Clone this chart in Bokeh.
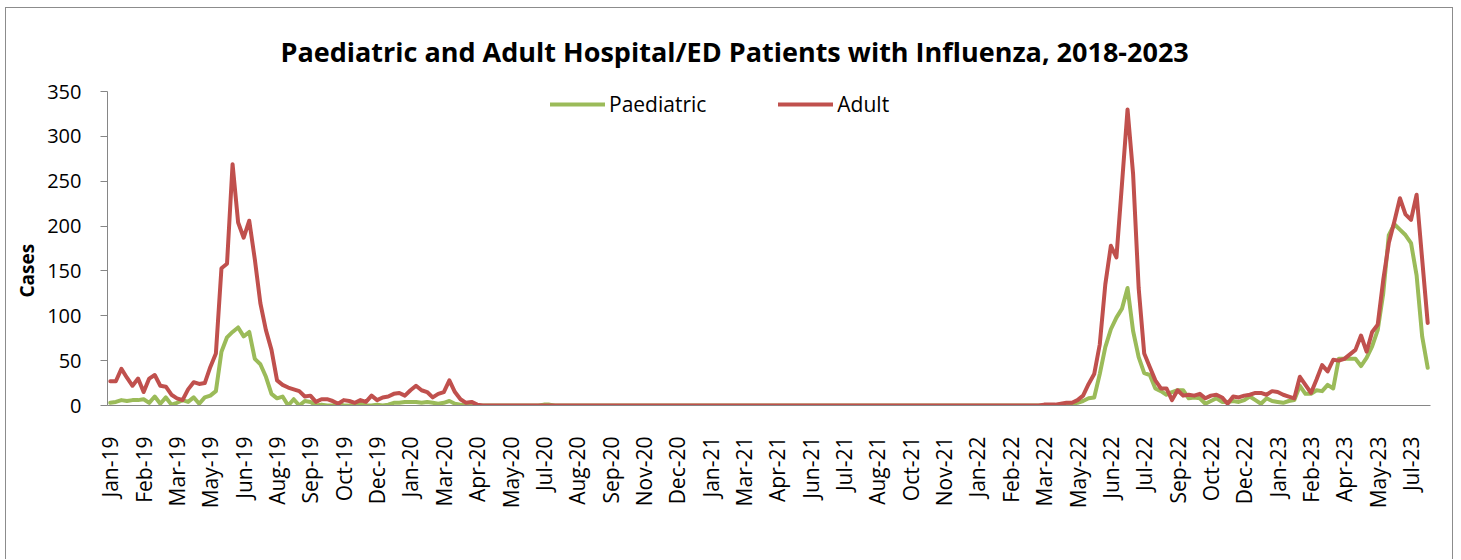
from bokeh.plotting import figure
from bokeh.models import Range1d, FixedTicker, Legend, LegendItem, ColumnDataSource, Title
from bokeh.embed import file_html
from bokeh.resources import INLINE
from math import pi

title_text = "Paediatric and Adult Hospital/ED Patients with Influenza, 2018-2023"
y_title = "Cases"

tick_labels = ["Jan-19", "Feb-19", "Mar-19", "May-19", "Jun-19", "Aug-19", "Sep-19", "Oct-19", "Dec-19",
               "Jan-20", "Mar-20", "Apr-20", "May-20", "Jul-20", "Aug-20", "Sep-20", "Nov-20", "Dec-20",
               "Jan-21", "Mar-21", "Apr-21", "Jun-21", "Jul-21", "Aug-21", "Oct-21", "Nov-21",
               "Jan-22", "Feb-22", "Mar-22", "May-22", "Jun-22", "Jul-22", "Sep-22", "Oct-22", "Dec-22",
               "Jan-23", "Feb-23", "Apr-23", "May-23", "Jul-23"]
weeks_per_label = 6

paediatric = [
    3, 4, 6, 5, 6, 6, 7, 3, 10, 2, 9, 1, 3, 6, 4, 9, 2, 9, 11, 16,
    60, 76, 82, 87, 77, 82, 52, 46, 32, 13, 8, 10, 0, 7, 0, 5, 4, 0, 1, 0,
    0, 2, 0, 0, 1, 2, 0, 0, 1, 0, 1, 3, 3, 4, 4, 4, 3, 4, 3, 2,
    3, 5, 2, 1, 0, 0, 0, 0, 0, 0, 0, 0, 0, 0, 0, 0, 0, 0, 1, 1,
    0, 0, 0, 0, 0, 0, 0, 0, 0, 0, 0, 0, 0, 0, 0, 0, 0, 0, 0, 0,
    0, 0, 0, 0, 0, 0, 0, 0, 0, 0, 0, 0, 0, 0, 0, 0, 0, 0, 0, 0,
    0, 0, 0, 0, 0, 0, 0, 0, 0, 0, 0, 0, 0, 0, 0, 0, 0, 0, 0, 0,
    0, 0, 0, 0, 0, 0, 0, 0, 0, 0, 0, 0, 0, 0, 0, 0, 0, 0, 0, 0,
    0, 0, 0, 0, 0, 0, 0, 0, 0, 0, 0, 0, 1, 2, 3, 5, 8, 9, 35, 65,
    85, 98, 108, 131, 83, 54, 36, 34, 19, 16, 12, 15, 17, 17, 8, 9, 8, 2, 5, 8,
    4, 4, 5, 4, 6, 10, 6, 2, 8, 5, 4, 3, 5, 6, 22, 13, 13, 17, 16, 23,
    19, 52, 52, 52, 52, 44, 53, 66, 84, 125, 190, 202, 196, 190, 181, 145, 77, 42,
]

adult = [
    27, 27, 41, 31, 22, 30, 15, 30, 34, 22, 21, 12, 8, 6, 18, 26, 24, 25, 43, 58,
    153, 158, 269, 204, 187, 206, 163, 114, 84, 62, 28, 23, 20, 18, 16, 10, 11, 4, 7, 7,
    5, 2, 6, 5, 3, 6, 4, 11, 6, 9, 10, 13, 14, 11, 17, 22, 17, 15, 9, 13,
    15, 28, 15, 7, 3, 4, 1, 0, 0, 0, 0, 0, 0, 0, 0, 0, 0, 0, 0, 0,
    0, 0, 0, 0, 0, 0, 0, 0, 0, 0, 0, 0, 0, 0, 0, 0, 0, 0, 0, 0,
    0, 0, 0, 0, 0, 0, 0, 0, 0, 0, 0, 0, 0, 0, 0, 0, 0, 0, 0, 0,
    0, 0, 0, 0, 0, 0, 0, 0, 0, 0, 0, 0, 0, 0, 0, 0, 0, 0, 0, 0,
    0, 0, 0, 0, 0, 0, 0, 0, 0, 0, 0, 0, 0, 0, 0, 0, 0, 0, 0, 0,
    0, 0, 0, 0, 0, 0, 0, 0, 1, 1, 1, 2, 3, 3, 6, 11, 24, 35, 68, 135,
    178, 165, 247, 330, 258, 131, 58, 43, 28, 19, 19, 6, 17, 11, 12, 11, 13, 8, 11, 12,
    9, 2, 10, 9, 11, 12, 14, 14, 12, 16, 15, 12, 10, 8, 32, 23, 14, 29, 45, 38,
    51, 50, 52, 57, 62, 78, 60, 82, 90, 140, 181, 205, 231, 213, 207, 235, 163, 92,
]

n = len(adult)
week = list(range(n))
src = ColumnDataSource(dict(week=week, paediatric=paediatric, adult=adult))

FONT = "Open Sans"
GREEN = "#9BBB59"
RED = "#C0504D"
AXIS = "#868686"

p = figure(width=1448, height=552, output_backend="svg", toolbar_location=None,
           x_range=Range1d(-0.5, n - 0.5), y_range=Range1d(0, 350),
           min_border_left=99, min_border_right=24, min_border_top=83, min_border_bottom=155)
p.styles = {"margin-left": "5px", "margin-top": "7px",
            "border-left": "1px solid #8c8c8c", "border-top": "1px solid #8c8c8c",
            "border-right": "1px solid #8c8c8c"}
p.outline_line_color = None
p.xgrid.visible = False
p.ygrid.visible = False

r_p = p.line("week", "paediatric", source=src, line_color=GREEN, line_width=4,
             line_join="round", line_cap="round")
r_a = p.line("week", "adult", source=src, line_color=RED, line_width=4,
             line_join="round", line_cap="round")

# title
p.title.text = title_text
p.title.align = "left"
p.title.offset = 173
p.title.standoff = 40
p.title.vertical_align = "top"
p.title.text_font = FONT
p.title.text_font_style = "bold"
p.title.text_font_size = "27px"
p.title.text_color = "black"

# x axis
xt = [i * weeks_per_label for i in range(len(tick_labels))]
p.xaxis.ticker = FixedTicker(ticks=xt)
p.xaxis.major_label_overrides = {t: lab for t, lab in zip(xt, tick_labels)}
p.xaxis.major_label_orientation = pi / 2
p.xaxis.major_tick_line_color = None
p.xaxis.major_tick_out = 0
p.xaxis.major_tick_in = 0
p.xaxis.minor_tick_line_color = None
p.xaxis.major_label_standoff = 31
p.xaxis.axis_line_color = AXIS
p.xaxis.major_label_text_font = FONT
p.xaxis.major_label_text_font_size = "21px"
p.xaxis.major_label_text_color = "black"

# y axis
p.yaxis.ticker = FixedTicker(ticks=[0, 50, 100, 150, 200, 250, 300, 350])
p.yaxis.axis_line_color = AXIS
p.yaxis.major_tick_line_color = AXIS
p.yaxis.major_tick_out = 7
p.yaxis.major_tick_in = 0
p.yaxis.minor_tick_line_color = None
p.yaxis.major_label_standoff = 19
p.yaxis.major_label_text_font = FONT
p.yaxis.major_label_text_font_size = "20px"
p.yaxis.major_label_text_color = "black"

# y-axis title, placed in the left panel so it can sit below the middle like the reference
ytitle = Title(text=y_title, align="left", offset=108, vertical_align="bottom", standoff=10,
               text_font=FONT, text_font_style="bold", text_font_size="19px", text_color="black")
p.add_layout(ytitle, "left")

legend = Legend(items=[LegendItem(label="Paediatric", renderers=[r_p]),
                       LegendItem(label="Adult", renderers=[r_a])],
                orientation="horizontal", location=(443, 287),
                glyph_width=55, glyph_height=20,
                spacing=72, padding=0, margin=0, label_standoff=4,
                border_line_color=None, background_fill_alpha=0,
                label_text_font=FONT, label_text_font_size="21px", label_text_color="black")
p.add_layout(legend)

open("out.html", "w").write(file_html(p, INLINE))
